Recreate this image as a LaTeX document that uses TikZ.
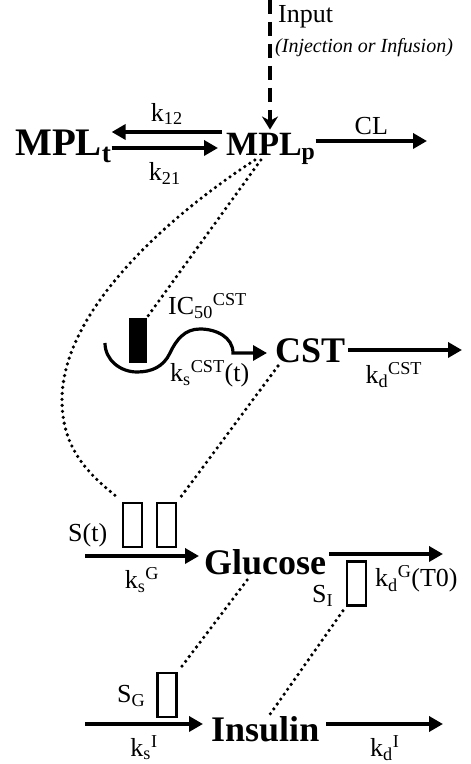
\documentclass[tikz,border=0pt]{standalone}
\usepackage{fontspec}
\setmainfont{Liberation Serif}
\usetikzlibrary{arrows.meta,positioning,calc}

\begin{document}
\begin{tikzpicture}[x=1pt,y=1pt,
  cmp/.style={font=\fontsize{36}{40}\selectfont\bfseries,inner sep=0pt},
  lbl/.style={font=\fontsize{26}{30}\selectfont,inner sep=0pt},
  flow/.style={line width=4.5pt,-{Triangle[length=14pt,width=15pt]}},
  dots/.style={line width=3.6pt,line cap=round,dash pattern=on 0pt off 6pt},
  gate/.style={draw,line width=2.4pt,minimum width=19pt,minimum height=44pt,inner sep=0pt}
]
  \useasboundingbox (0,0) rectangle (471,764);
  % MPL
  \node[cmp,anchor=base west,font=\fontsize{39}{42}\selectfont\bfseries] (mplt) at (15,608) {MPL\textsubscript{t}};
  \node[cmp,anchor=base west,font=\fontsize{34}{40}\selectfont\bfseries] (mplp) at (226,608) {MPL\textsubscript{p}};
  \node[lbl,anchor=base west] (inp) at (278,741) {Input};
  \node[lbl,anchor=base west,font=\fontsize{20}{24}\selectfont\itshape] (inj) at (275,711) {(Injection or Infusion)};
  \coordinate (intop) at (270,764);
  \draw[line width=3.5pt,dash pattern=on 14pt off 8pt,-{Stealth[length=13pt,width=16pt]},shorten >=4pt]
    (intop) -- (intop |- mplp.north);
  \draw[flow] ([xshift=-4pt,yshift=24pt]mplp.base west) -- ([yshift=24pt]mplt.base east)
    node[lbl,midway,above=5pt] {k\textsubscript{12}};
  \draw[flow] ([yshift=8pt]mplt.base east) -- ([xshift=-8pt,yshift=8pt]mplp.base west)
    node[lbl,midway,below=12pt] {k\textsubscript{21}};
  \coordinate (clend) at (427,623);
  \draw[flow] ([yshift=15pt]mplp.base east) -- (clend)
    node[lbl,midway,above=4pt] {CL};
  % CST
  \node[cmp,anchor=base west] (cst) at (275,401) {CST};
  \node[fill=black,minimum width=18pt,minimum height=45pt,inner sep=0pt] (icbar) at (137.5,423.5) {};
  \node[lbl,anchor=base west] (iclbl) at (168,449) {IC\textsubscript{50}\textsuperscript{CST}};
  \node[lbl,anchor=base west] (kslbl) at (170,382) {k\textsubscript{s}\textsuperscript{CST}(t)};
  \coordinate (ksrc) at (105,421);
  \draw[line width=3.2pt,-{Triangle[length=14pt,width=15pt]},shorten >=8pt]
    (ksrc) to[out=-90,in=180] (137,392) to[out=0,in=-115] (170,411)
    to[out=65,in=180] (200,435) to[out=0,in=90] (233,411) -- ([yshift=10pt]cst.base west);
  \coordinate (kdcst) at (462,414);
  \draw[flow] ([xshift=3pt,yshift=13pt]cst.base east) -- (kdcst)
    node[lbl,pos=0.4,below=10pt] {k\textsubscript{d}\textsuperscript{CST}};
  % Glucose
  \node[cmp,anchor=base west] (glu) at (204,189) {Glucose};
  \node[gate] (gbox1) at (132.5,239) {};
  \node[gate] (gbox2) at (166.5,239) {};
  \node[lbl,anchor=base west] (slbl) at (68,222) {S(t)};
  \coordinate (gin) at (85,208);
  \draw[flow] (gin) -- ([xshift=-5pt,yshift=19pt]glu.base west)
    node[lbl,midway,below=9pt] {k\textsubscript{s}\textsuperscript{G}};
  \coordinate (gout) at (443,210);
  \draw[flow] ([xshift=3pt,yshift=21pt]glu.base east) -- (gout);
  \node[gate] (sibox) at (356.5,180.5) {};
  \node[lbl,anchor=base west] (silbl) at (312,161) {S\textsubscript{I}};
  \node[lbl,anchor=base west] (kdglbl) at (375,177) {k\textsubscript{d}\textsuperscript{G}(T0)};
  % Insulin
  \node[cmp,anchor=base west] (ins) at (211,22) {Insulin};
  \node[gate] (sgbox) at (167,69) {};
  \node[lbl,anchor=base west] (sglbl) at (117,61) {S\textsubscript{G}};
  \coordinate (iin) at (85,40);
  \draw[flow] (iin) -- ([xshift=-8pt,yshift=18pt]ins.base west)
    node[lbl,midway,below=9pt] {k\textsubscript{s}\textsuperscript{I}};
  \coordinate (iout) at (443,40);
  \draw[flow] ([xshift=7pt,yshift=18pt]ins.base east) -- (iout)
    node[lbl,midway,below=9pt] {k\textsubscript{d}\textsuperscript{I}};
  % dotted links
  \draw[dots] ([xshift=-16pt,yshift=-4pt]mplp.base) .. controls (170,549) and (62,454) .. (62,364)
    .. controls (62,314) and (90,289) .. (117,267);
  \draw[dots] ([xshift=-10pt,yshift=-4pt]mplp.base) -- (icbar.north east);
  \draw[dots,shorten >=4pt] ([xshift=3pt,yshift=-3pt]cst.base west) -- (gbox2.north east);
  \draw[dots,shorten >=4pt] ([xshift=-18pt,yshift=-5pt]glu.base) -- (sgbox.north east);
  \draw[dots,shorten <=5pt] (sibox.south west) -- ([xshift=3pt]ins.north);
\end{tikzpicture}
\end{document}
